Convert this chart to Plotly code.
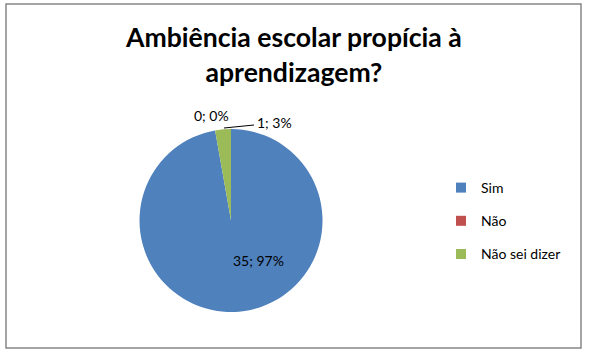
import plotly.graph_objects as go

categories = ["Sim", "Não", "Não sei dizer"]
values = [35, 0, 1]
colors = ["#4F81BD", "#C0504D", "#9BBB59"]
title_text = "Ambiência escolar propícia à<br>aprendizagem?"

W, H = 590, 354
total = sum(values)
pct = [round(v * 100 / total) for v in values]
labels_txt = [f"{v}; {p}%" for v, p in zip(values, pct)]

FONT = "Lato, Carlito, Calibri, sans-serif"

fig = go.Figure()
fig.add_trace(go.Pie(
    labels=categories, values=values, marker=dict(colors=colors, line=dict(width=0)),
    sort=False, direction="clockwise", rotation=0,
    textinfo="none", hoverinfo="label+value+percent", showlegend=False,
    domain=dict(x=[139 / W, 323 / W], y=[1 - 312 / H, 1 - 129 / H]),
))

for i, (c, col) in enumerate(zip(categories, colors)):
    fig.add_trace(go.Scatter(
        x=[None], y=[None], mode="markers", name=c, legendgroup=c,
        marker=dict(symbol="square", size=10, color=col, line=dict(width=0)), showlegend=True,
    ))

def px(x, y):
    return x / W, 1 - y / H

ann_pos = [(258, 260), (211, 116), (274, 122)]
annotations = []
for t, (ax, ay) in zip(labels_txt, ann_pos):
    x, y = px(ax, ay)
    annotations.append(dict(x=x, y=y, xref="paper", yref="paper", text=t, showarrow=False,
                            font=dict(family=FONT, size=14, color="#000000"),
                            xanchor="center", yanchor="middle"))

tx, ty = px(293, 55)
annotations.append(dict(x=tx, y=ty, xref="paper", yref="paper", text=title_text, showarrow=False,
                        font=dict(family=FONT, size=26.6, color="#000000", weight="bold"),
                        xanchor="center", yanchor="middle", align="center"))

x0, y0 = px(6, 4)
x1, y1 = px(581, 348)
lx0, ly0 = px(224, 128)
lx1, ly1 = px(254, 125)
shapes = [
    dict(type="rect", xref="paper", yref="paper", x0=x0, y0=y1, x1=x1, y1=y0,
         line=dict(color="#868686", width=1.5), fillcolor="rgba(0,0,0,0)"),
    dict(type="line", xref="paper", yref="paper", x0=lx0, y0=ly0, x1=lx1, y1=ly1,
         line=dict(color="#000000", width=1)),
]

fig.update_layout(
    width=W, height=H, margin=dict(l=0, r=0, t=0, b=0),
    paper_bgcolor="white", plot_bgcolor="white",
    xaxis=dict(visible=False), yaxis=dict(visible=False),
    legend=dict(x=441 / W, y=1 - 172 / H, xanchor="left", yanchor="top",
                font=dict(family=FONT, size=14, color="#000000"),
                tracegroupgap=12, bgcolor="rgba(0,0,0,0)"),
    annotations=annotations, shapes=shapes,
)

fig.write_html("out.html")
